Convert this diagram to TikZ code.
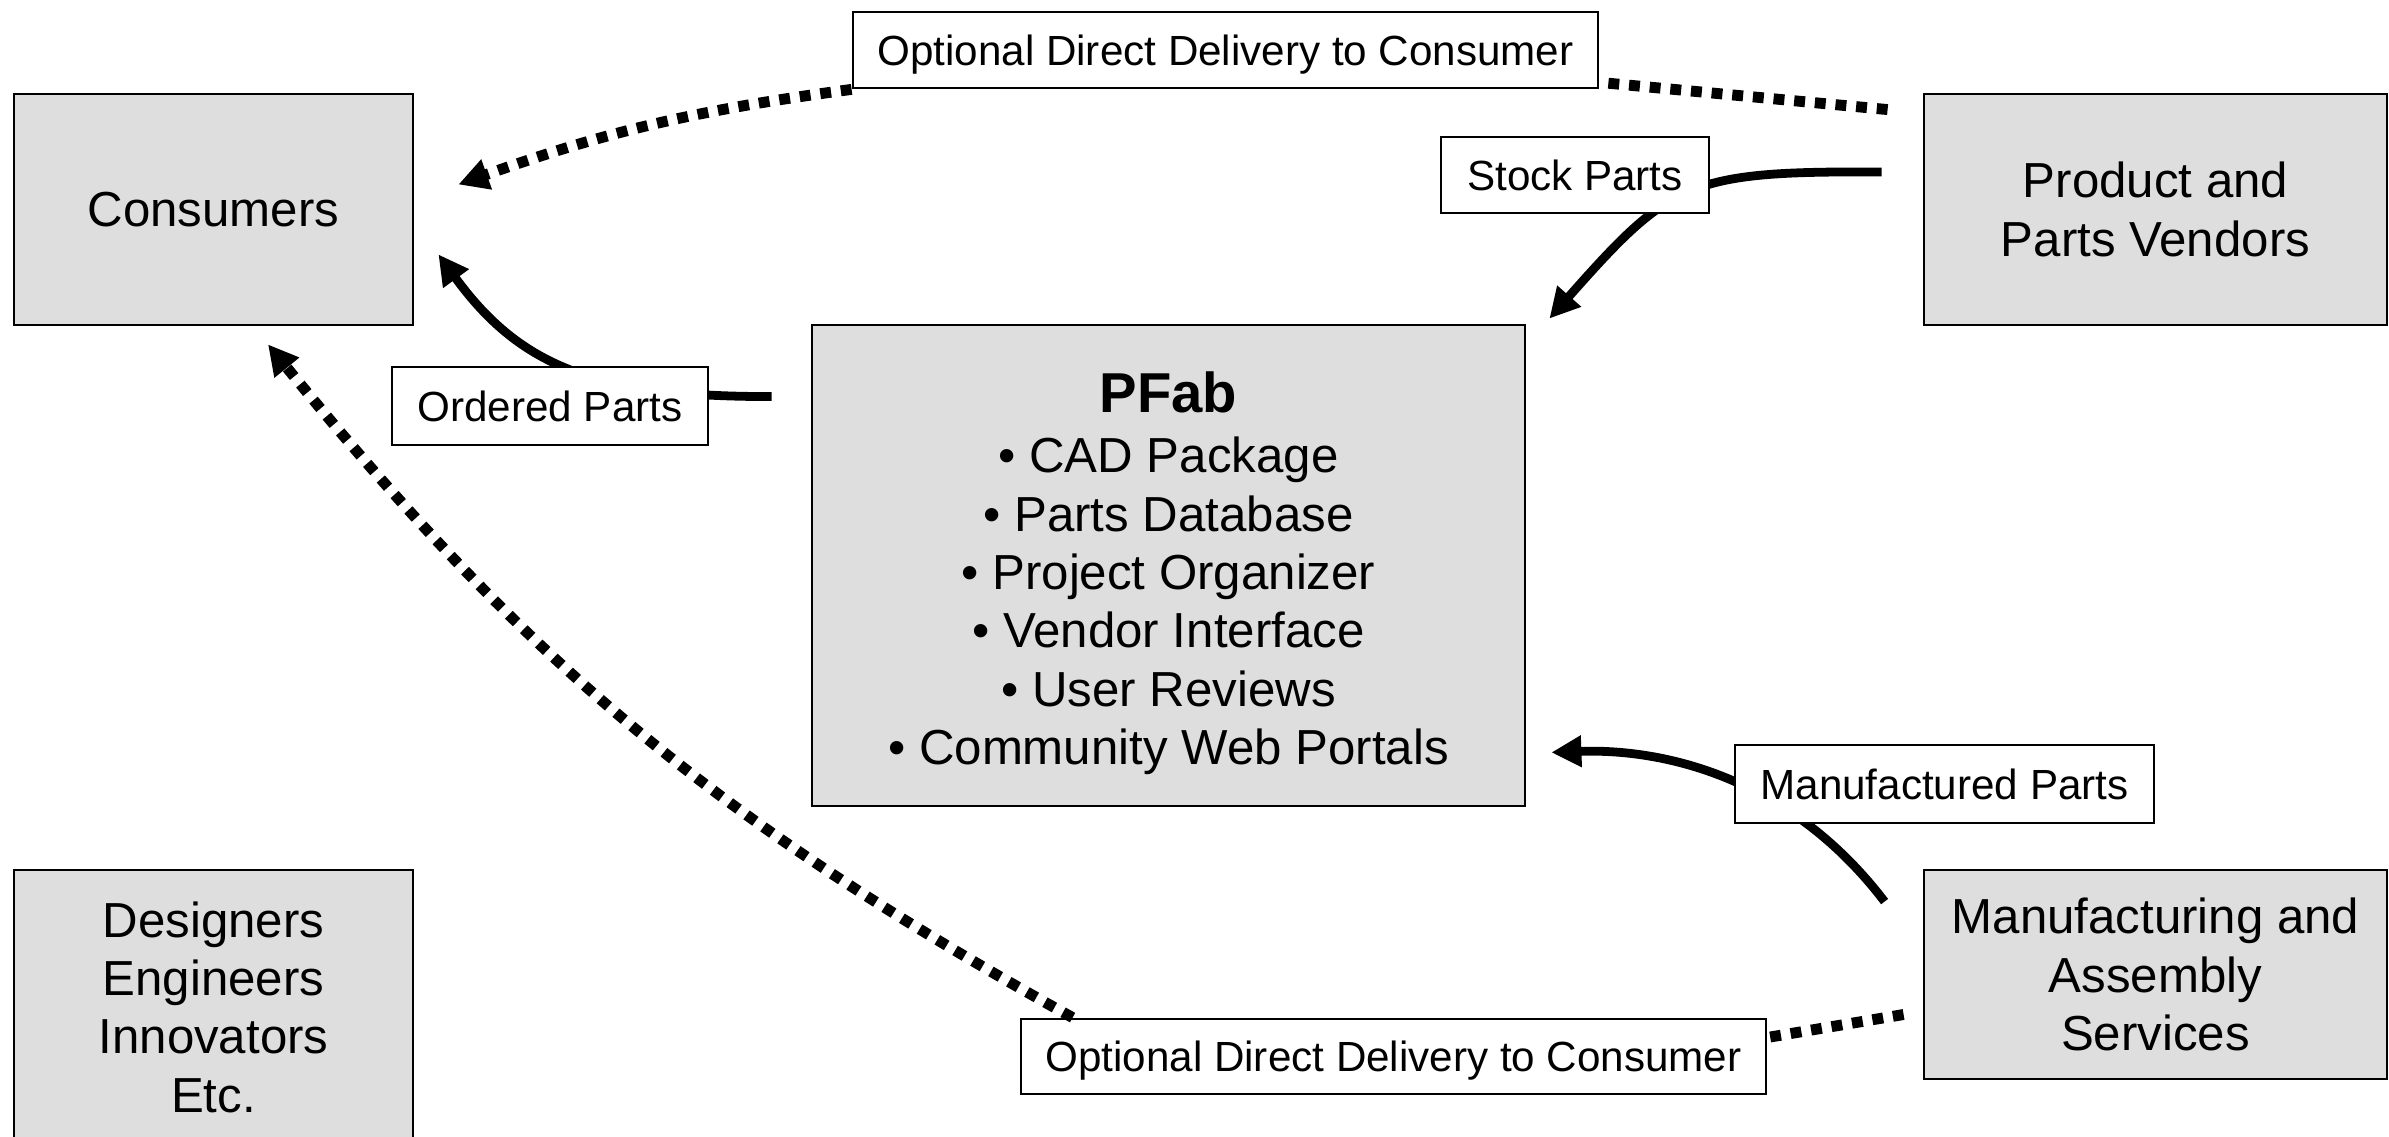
\documentclass[tikz,border=0pt]{standalone}
\usepackage{fontspec}
\setmainfont{Liberation Sans}
\colorlet{BoxFill}{black!13}
\usetikzlibrary{arrows.meta, calc}
\tikzset{
    main box/.style={
        draw=black, line width=0.8pt, fill=BoxFill, align=center,
        font=\fontsize{14}{16.6}\selectfont, inner sep=2pt
    },
    label box/.style={
        draw=black, line width=0.8pt, fill=white, align=center,
        font=\fontsize{12}{14}\selectfont, inner sep=2pt
    },
    flow tip/.style={-{Triangle[length=0.3cm, width=0.3cm]}},
    flow line/.style={line width=2.5pt, flow tip},
    dotted flow/.style={line width=3.1pt, dash pattern=on 3.1pt off 2.8pt}
}
\begin{document}
\begin{tikzpicture}

\useasboundingbox (0,0) rectangle (23.89,11.37);

% Cajas principales.
\node[main box, minimum width=3.99cm, minimum height=2.31cm] (consumers) at (2.135,9.275) {Consumers};
\node[main box, minimum width=3.99cm, minimum height=2.74cm] (designers) at (2.135,1.30)
    {Designers\\ Engineers\\ Innovators\\ Etc.};
\node[main box, minimum width=4.63cm, minimum height=2.31cm] (vendors) at (21.555,9.275)
    {Product and\\ Parts Vendors};
\node[main box, minimum width=4.63cm, minimum height=2.09cm] (mfg) at (21.555,1.625)
    {Manufacturing and\\ Assembly\\ Services};
\node[main box, minimum width=7.13cm, minimum height=4.81cm] (pfab) at (11.685,5.715)
    {\rule{0pt}{16pt}{\fontsize{16}{19}\selectfont\bfseries PFab}\\[0.6pt]
     • CAD Package\\ • Parts Database\\ • Project Organizer\\
     • Vendor Interface\\ • User Reviews\\ • Community Web Portals};

% Flujos de piezas (lineas continuas).
\draw[flow line] ([shift={(-0.41,0.375)}]vendors.west)
    .. controls +(-1.93,0.01) and +(1.22,1.38) .. ([shift={(0.23,0.05)}]pfab.north east);
\draw[flow line] ([shift={(-0.39,-0.73)}]pfab.north west)
    .. controls +(-1.73,0) and +(0.83,-1.14) .. ([shift={(0.24,0.72)}]consumers.south east);
\draw[flow line] ([shift={(-0.38,-0.33)}]mfg.north west)
    .. controls +(-0.96,1.26) and +(1.1,0.04) .. ([shift={(0.25,0.55)}]pfab.south east);

% Etiquetas de los flujos.
\node[label box, text depth=0pt, minimum width=7.45cm, minimum height=0.76cm] (optTop) at (12.255,10.87)
    {Optional Direct Delivery to Consumer};
\node[label box, minimum width=2.68cm, minimum height=0.76cm] (stock) at (15.75,9.62) {Stock Parts};
\node[label box, minimum width=3.16cm, minimum height=0.78cm] (ordered) at (5.50,7.31) {Ordered Parts};
\node[label box, minimum width=4.19cm, minimum height=0.78cm] (manuf) at (19.445,3.53) {Manufactured Parts};
\node[label box, text depth=0pt, minimum width=7.45cm, minimum height=0.75cm] (optBot) at (13.935,0.805)
    {Optional Direct Delivery to Consumer};

% Entregas directas opcionales (lineas punteadas).
\draw[dotted flow] ([shift={(-0.35,-0.17)}]vendors.north west) -- ([yshift=2pt]optTop.south east);
\draw[dotted flow, flow tip] (optTop.south west) to[bend right=6] ([shift={(0.44,0.25)}]consumers.east);
\draw[dotted flow] ([shift={(-0.19,-0.4)}]mfg.west) -- ([yshift=0.19cm]optBot.east);
\draw[dotted flow, flow tip] ([xshift=0.53cm]optBot.north west)
    to[bend left=11] ([shift={(0.545,-0.18)}]consumers.south);

\end{tikzpicture}
\end{document}
